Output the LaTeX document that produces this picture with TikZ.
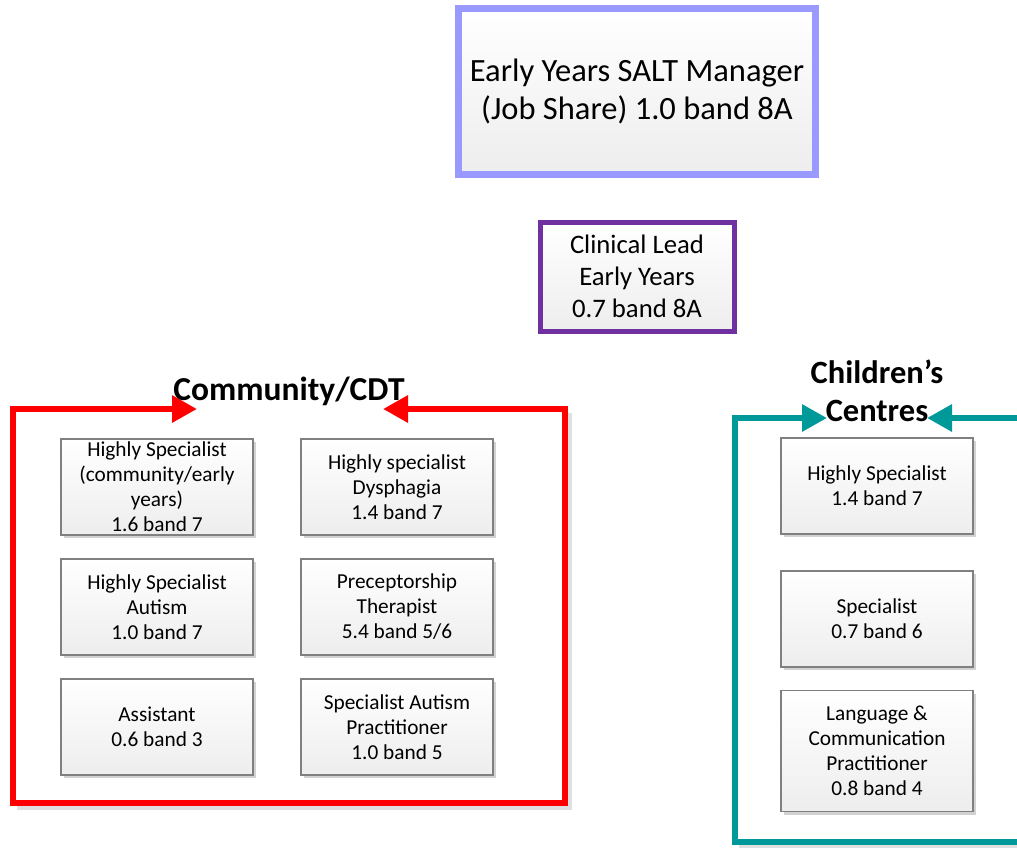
\documentclass[tikz,border=0pt]{standalone}
\usepackage{fontspec}
\setmainfont{Carlito}
\usetikzlibrary{arrows.meta,shadows}
\definecolor{lav}{RGB}{153,153,255}
\definecolor{purp}{RGB}{112,48,160}
\definecolor{tealf}{RGB}{0,153,153}
\definecolor{redf}{RGB}{255,0,0}
\begin{document}
\begin{tikzpicture}[x=1pt,y=-1pt,
  boxbase/.style={top color=white, bottom color=black!7, inner sep=0pt, align=center,
    drop shadow={shadow xshift=3pt,shadow yshift=-3pt,fill=black!25,opacity=0.7}},
  role/.style={boxbase, draw=black!50, line width=1.2pt, minimum width=192pt, minimum height=96pt,
    font=\fontsize{21.3}{25}\selectfont},
  mgr/.style={boxbase, draw=lav, line width=7pt, minimum width=357pt, minimum height=166pt,
    font=\fontsize{32.5}{38}\selectfont},
  lead/.style={boxbase, draw=purp, line width=5pt, minimum width=194pt, minimum height=109pt,
    font=\fontsize{26.7}{32}\selectfont},
  head/.style={inner sep=0pt, align=center, font=\fontsize{32.5}{38}\selectfont\bfseries},
  frame/.style={line width=6pt, line join=miter},
  tip/.style={-{Triangle[length=25pt,width=26pt]}},
  fshadow/.style={line width=6pt, line join=miter, draw=black!12},
]
\useasboundingbox (0,0) rectangle (1017,847);

% corner coordinates
\coordinate (rtl) at (13,409);
\coordinate (rtr) at (565,409);
\coordinate (rbr) at (565,803);
\coordinate (rbl) at (13,803);
\coordinate (rlt) at (197,409);
\coordinate (rrt) at (383,409);
\coordinate (ttl) at (735,418);
\coordinate (tbl) at (735,842);
\coordinate (tbr) at (1040,842);
\coordinate (ttr) at (1040,418);
\coordinate (tlt) at (827,418);
\coordinate (trt) at (927,418);

% frame shadows
\draw[fshadow] ([shift={(4,4)}]rtr) -- ([shift={(4,4)}]rbr) -- ([shift={(4,4)}]rbl);
\draw[fshadow] ([shift={(4,4)}]tbl) -- ([shift={(4,4)}]tbr);

% frames
\draw[frame, redf, {Triangle[length=25pt,width=26pt]}-{Triangle[length=25pt,width=26pt]}]
  (rrt) -- (rtr) -- (rbr) -- (rbl) -- (rtl) -- (rlt);
\draw[frame, tealf, tip] (tbr) -- (tbl) -- (ttl) -- (tlt);
\draw[frame, tealf, tip] (ttr) -- (trt);

% headings
\node[head, font=\fontsize{33.5}{38}\selectfont\bfseries] (comm) at (289,391) {Community/CDT};
\node[head] (chc) at (877,391) {Children’s\\Centres};

% top boxes
\node[mgr] (mgr) at (637,91) {Early Years SALT Manager\\(Job Share) 1.0 band 8A};
\node[lead] (lead) at (637,276.5) {Clinical Lead\\Early Years\\0.7 band 8A};

% community roles
\node[role] (a1) at (157,487) {Highly Specialist\\(community/early\\years)\\1.6 band 7};
\node[role] (a2) at (397,487) {Highly specialist\\Dysphagia\\1.4 band 7};
\node[role] (b1) at (157,607) {Highly Specialist\\Autism\\1.0 band 7};
\node[role] (b2) at (397,607) {Preceptorship\\Therapist\\5.4 band 5/6};
\node[role] (c1) at (157,727) {Assistant\\0.6 band 3};
\node[role] (c2) at (397,727) {Specialist Autism\\Practitioner\\1.0 band 5};

% children's centres roles
\node[role] (t1) at (877,486) {Highly Specialist\\1.4 band 7};
\node[role] (t2) at (877,619) {Specialist\\0.7 band 6};
\node[role, minimum height=121pt] (t3) at (877,751) {Language \&\\Communication\\Practitioner\\0.8 band 4};
\end{tikzpicture}
\end{document}
